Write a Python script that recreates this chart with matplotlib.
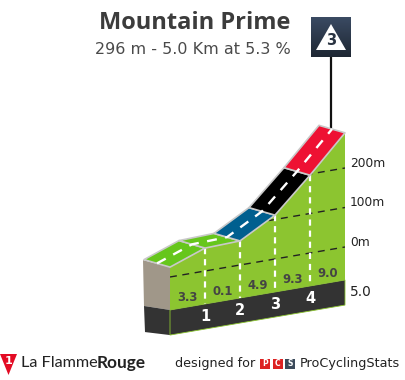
import numpy as np
import matplotlib
matplotlib.use("Agg")
import matplotlib.pyplot as plt
from matplotlib.patches import Polygon, Rectangle
from matplotlib.colors import LinearSegmentedColormap

# ---- data
km = [0, 1, 2, 3, 4, 5]
elevation = [25, 58, 61, 111, 197, 289]
gradients = ["3.3", "0.1", "4.9", "9.3", "9.0"]
segment_colors = ["#66c61c", "#66c61c", "#005f8f", "#000000", "#ee1133"]
km_labels = ["1", "2", "3", "4"]
elev_ticks = [0, 100, 200]
elev_tick_labels = ["0m", "100m", "200m"]
title = "Mountain Prime"
subtitle = "296 m - 5.0 Km at 5.3 %"
end_label = "5.0"
category = "3"

BASE_TOP, BASE_BOTTOM = -83.5, -147


def proj(k, e, depth=0.0):
    k = np.asarray(k, float)
    e = np.asarray(e, float)
    return np.column_stack([170 + 35 * k - 26 * depth,
                            277 - 6 * k - 0.395 * e - 7.5 * depth])


fig = plt.figure(figsize=(4.05, 3.80), dpi=100)
ax = fig.add_axes([0, 0, 1, 1])
ax.set_xlim(0, 405)
ax.set_ylim(380, 0)
ax.axis("off")

FONT = "DejaVu Sans"
GREEN = "#8cc530"
EDGE = "#c9c9c9"

# front face
front_pts = np.vstack([proj(km, elevation),
                       proj([5, 0], [BASE_TOP, BASE_TOP])])
front = Polygon(front_pts, closed=True, fc=GREEN, ec="none", zorder=2)
ax.add_patch(front)

# left side and base
p0_top = proj(0, elevation[0])[0]
p0_base = proj(0, BASE_TOP)[0]
p0_bot = proj(0, BASE_BOTTOM)[0]
ax.add_patch(Polygon([p0_top, p0_top + [-27, -7], p0_base + [-26, -4], p0_base],
                     fc="#a09789", ec="none", zorder=2))
ax.add_patch(Polygon([p0_base, p0_base + [-26, -4], p0_bot + [-25, -3], p0_bot],
                     fc="#333333", ec="none", zorder=2))
ax.add_patch(Polygon(np.vstack([proj([0, 5], [BASE_TOP] * 2), proj([5, 0], [BASE_BOTTOM] * 2)]),
                     fc="#333333", ec=GREEN, lw=0.6, zorder=3))

# elevation grid lines, clipped to the front face
for e, lab in zip(elev_ticks, elev_tick_labels):
    p = proj([0, 5], [e, e])
    ln, = ax.plot(p[:, 0], p[:, 1], color="#222222", lw=1.0, dashes=(5, 4), zorder=3)
    ln.set_clip_path(front)
    ax.text(350, p[1, 1] - 4.5, lab, fontsize=8.8, color="#222222", family=FONT,
            ha="left", va="center", zorder=6)

# km verticals
for k, lab in zip(km[1:-1], km_labels):
    p = proj([k, k], [elevation[k], BASE_TOP])
    ax.plot(p[:, 0], p[:, 1], color="white", lw=1.6, dashes=(2.8, 2.2), zorder=4)
    c = proj(k, BASE_TOP)[0]
    ax.text(c[0], c[1] + 12.5, lab, fontsize=10.5, color="white", weight="bold",
            family=FONT, ha="center", va="center", zorder=6)

# gradient labels
for k, lab in zip(km[:-1], gradients):
    c = proj(k + 0.5, BASE_TOP)[0]
    ax.text(c[0], c[1] - 9, lab, fontsize=8.4, color="#444444", weight="bold",
            family=FONT, ha="center", va="center", zorder=6)

# road segments
for i, col in enumerate(segment_colors):
    f = proj(km[i:i + 2], elevation[i:i + 2])
    b = proj(km[i:i + 2], elevation[i:i + 2], 1)
    ax.add_patch(Polygon(np.vstack([f, b[::-1]]), fc=col, ec=EDGE, lw=1.2,
                         joinstyle="round", zorder=5))

# centre dashes
centre = proj(km, elevation, 0.5)
ax.plot(centre[:, 0], centre[:, 1], color="white", lw=1.7, dashes=(4.2, 3.6), zorder=6)
ax.text(350, proj(5, BASE_TOP)[0][1] + 12.5, end_label, fontsize=9.8, color="#222222",
        family=FONT, ha="left", va="center", zorder=6)

# titles
ax.text(290.5, 23, title, fontsize=17, weight="bold", color="#3c3c3c", family="Open Sans",
        ha="right", va="center")
ax.text(290.5, 50, subtitle, fontsize=11.5, color="#4a4a4a", family=FONT,
        ha="right", va="center")

# category sign
top = proj(5, elevation[-1], 0.5)[0]
ax.plot([331, 331], [57, top[1] - 2], color="#111111", lw=1.6, zorder=4)
cm = LinearSegmentedColormap.from_list("sign", ["#3a4a62", "#1e2733"])
ax.imshow(np.linspace(0, 1, 40)[:, None], cmap=cm, extent=(311, 351, 57, 17),
          aspect="auto", zorder=7)
ax.add_patch(Polygon([[331, 24], [346, 50], [316, 50]], fc="white", ec="none", zorder=8))
ax.text(331, 40.5, category, fontsize=10.5, weight="bold", color="#2a3442", family=FONT,
        ha="center", va="center", zorder=9)
ax.set_xlim(0, 405)
ax.set_ylim(380, 0)

# footer
ax.add_patch(Polygon([[0, 354], [17, 354], [8.5, 375]], fc="#e30b24", ec="none"))
ax.text(8.6, 361.5, "1", fontsize=8, weight="bold", color="white", family=FONT,
        ha="center", va="center")
ax.text(21, 363, "La Flamme", fontsize=11.7, color="#222222", family="Lato",
        weight="normal", ha="left", va="center")
ax.text(97, 363, "Rouge", fontsize=12.4, weight="bold", color="#222222", family="Lato",
        ha="left", va="center")
ax.text(175, 363.5, "designed for", fontsize=9.2, color="#222222", family=FONT,
        ha="left", va="center")
for x, ch, col in [(260, "P", "#dd2222"), (273, "C", "#dd2222"), (285, "S", "#3b4a5a")]:
    ax.add_patch(Rectangle((x, 359), 9.5, 9.5, fc=col, ec="none"))
    ax.text(x + 4.75, 363.7, ch, fontsize=5.5, weight="bold", color="white", family=FONT,
            ha="center", va="center")
ax.text(400, 363.5, "ProCyclingStats", fontsize=9.2, color="#222222", family=FONT,
        ha="right", va="center")

fig.savefig("out.png", dpi=100)
